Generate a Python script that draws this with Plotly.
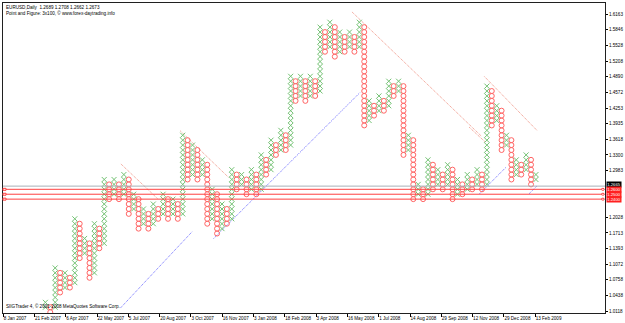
import plotly.graph_objects as go

# ---------------- data ----------------
col_type = list("XOXOXOXOXOXOXOXOXOXOXOXOXOXOXOXOXOXOXOXOXOXOXOXOXOXOXOXOXOXOXOXOXOXOXOXOXOXOXOXOXOXOXOXOXOXOXOXOXOXOX")
col_low = [102, 100, 102, 105, 106, 106, 107, 112, 113, 108,
           109, 114, 115, 124, 125, 124, 125, 121, 122, 118,
           119, 118, 119, 120, 121, 120, 121, 120, 121, 128,
           129, 128, 129, 119, 120, 117, 118, 119, 120, 126,
           127, 125, 126, 125, 126, 129, 130, 133, 134, 134,
           135, 144, 145, 144, 145, 145, 146, 154, 155, 153,
           154, 154, 155, 154, 155, 139, 140, 141, 142, 142,
           143, 145, 146, 133, 134, 124, 125, 124, 125, 126,
           127, 126, 127, 124, 125, 125, 126, 126, 127, 126,
           127, 139, 140, 134, 135, 128, 129, 129, 130, 127,
           128]
col_high = [103, 102, 110, 109, 109, 108, 120, 119, 116, 115,
            119, 118, 128, 127, 128, 127, 129, 128, 125, 124,
            122, 121, 123, 122, 125, 124, 124, 123, 137, 136,
            135, 134, 132, 131, 126, 125, 123, 122, 130, 129,
            129, 128, 130, 129, 133, 132, 136, 135, 138, 137,
            149, 148, 149, 148, 149, 148, 159, 158, 160, 159,
            158, 157, 158, 157, 160, 159, 144, 143, 145, 144,
            148, 147, 148, 147, 137, 136, 127, 126, 132, 131,
            130, 129, 131, 130, 128, 127, 129, 128, 130, 129,
            147, 146, 143, 142, 137, 136, 132, 131, 133, 132,
            129]

# trend lines: (col0, price0, col1, price1)
support_lines = [(15.3, 1.0184, 29.9, 1.1735),
                 (34.3, 1.1599, 64.1, 1.4566),
                 (88.5, 1.2509, 93.9, 1.3049),
                 (98.6, 1.2509, 100.3, 1.2677)]
resist_lines = [(15.4, 1.3116, 22.9, 1.2408),
                (27.5, 1.3789, 37.3, 1.2847),
                (62.5, 1.6210, 88.9, 1.3680),
                (89.5, 1.4895, 100.3, 1.3790),
                (86.4, 1.3864, 89.7, 1.3560)]

y_ticks = [1.6163, 1.5846, 1.5528, 1.5208, 1.4890, 1.4572, 1.4253, 1.3935,
           1.3618, 1.3300, 1.2983, 1.2028, 1.1713, 1.1393, 1.1072, 1.0758,
           1.0438, 1.0118]
date_labels = ["8 Jan 2007", "21 Feb 2007", "6 Apr 2007", "22 May 2007", "5 Jul 2007",
               "20 Aug 2007", "3 Oct 2007", "16 Nov 2007", "3 Jan 2008", "18 Feb 2008",
               "3 Apr 2008", "16 May 2008", "1 Jul 2008", "14 Aug 2008", "29 Sep 2008",
               "12 Nov 2008", "29 Dec 2008", "13 Feb 2009"]
current_price = 1.2665
level_lines = [1.2600, 1.2500, 1.2400]

# ---------------- build ----------------
xs_x, ys_x, xs_o, ys_o = [], [], [], []
for k, (t, lo, hi) in enumerate(zip(col_type, col_low, col_high)):
    for lvl in range(lo, hi + 1):
        if t == "X":
            xs_x.append(k); ys_x.append(lvl / 100)
        else:
            xs_o.append(k); ys_o.append(lvl / 100)

FONT = "Liberation Sans, Arial, sans-serif"
FS = 4.6
GREEN = "#74c274"
RED_O = "#ff6464"
fig = go.Figure()

for (k0, p0, k1, p1) in support_lines:
    fig.add_trace(go.Scatter(x=[k0, k1], y=[p0, p1], mode="lines",
                             line=dict(color="#6a6aff", width=1, dash="1px,1px"),
                             hoverinfo="skip", showlegend=False))
for (k0, p0, k1, p1) in resist_lines:
    fig.add_trace(go.Scatter(x=[k0, k1], y=[p0, p1], mode="lines",
                             line=dict(color="#f09080", width=1, dash="1px,1px"),
                             hoverinfo="skip", showlegend=False))

fig.add_trace(go.Scatter(x=xs_x, y=ys_x, mode="markers", showlegend=False,
                         marker=dict(symbol="x-thin-open", size=5, color=GREEN,
                                     line=dict(color=GREEN, width=1))))
fig.add_trace(go.Scatter(x=xs_o, y=ys_o, mode="markers", showlegend=False,
                         marker=dict(symbol="circle-open", size=5, color=RED_O,
                                     line=dict(color=RED_O, width=1))))
# dummy for date axis
fig.add_trace(go.Scatter(x=[0], y=[1.0], xaxis="x2", mode="markers",
                         marker=dict(opacity=0), showlegend=False, hoverinfo="skip"))

shapes = []
shapes.append(dict(type="line", xref="paper", yref="y", x0=0, x1=1,
                   y0=current_price, y1=current_price,
                   line=dict(color="#a8b0b8", width=1)))
for lv in level_lines:
    shapes.append(dict(type="line", xref="paper", yref="y", x0=0, x1=0.998,
                       y0=lv, y1=lv, line=dict(color="#ff4040", width=1)))
    shapes.append(dict(type="rect", xref="paper", yref="y", x0=0.0, x1=0.005,
                       y0=lv - 0.002, y1=lv + 0.002,
                       line=dict(color="#ff4040", width=1), fillcolor="white"))
    shapes.append(dict(type="circle", xref="paper", yref="y", x0=0.994, x1=0.999,
                       y0=lv - 0.002, y1=lv + 0.002,
                       line=dict(color="#ff4040", width=1), fillcolor="white"))

annotations = [
    dict(xref="paper", yref="paper", x=0.002, y=0.999, xanchor="left", yanchor="top",
         text="EURUSD,Daily  1.2689 1.2708 1.2662 1.2673<br>Point and Figure: 3x100, © www.forex-daytrading.info",
         showarrow=False, align="left", font=dict(family=FONT, size=FS, color="black")),
    dict(xref="paper", yref="paper", x=0.002, y=0.006, xanchor="left", yanchor="bottom",
         text="SIIGTrader 4, © 2001-2008 MetaQuotes Software Corp.",
         showarrow=False, align="left", font=dict(family=FONT, size=FS, color="black")),
    dict(xref="paper", yref="y", x=1.0, y=current_price, xanchor="left", yanchor="middle",
         text="%.4f" % current_price, showarrow=False, bgcolor="black", borderpad=0,
         height=4.6, width=14, xshift=1, yshift=1.2,
         font=dict(family=FONT, size=4.2, color="white")),
]
for lv in level_lines:
    annotations.append(dict(xref="paper", yref="y", x=1.0, y=lv, xanchor="left", yanchor="middle",
                            text="%.4f" % lv, showarrow=False, bgcolor="#ff2020", borderpad=0,
                            height=4.6, width=14, xshift=1,
                            font=dict(family=FONT, size=4.2, color="white")))

fig.update_layout(
    width=625, height=323,
    margin=dict(l=2, r=19, t=3, b=8),
    paper_bgcolor="white", plot_bgcolor="white",
    showlegend=False,
    shapes=shapes, annotations=annotations,
    xaxis=dict(range=[-8.635, 114.079], showgrid=False, zeroline=False,
               showticklabels=False, ticks="", showline=True, mirror=True,
               linecolor="#202020", linewidth=1),
    xaxis2=dict(overlaying="x", anchor="y", side="bottom", range=[-0.005, 19.231],
                tickmode="array", tickvals=list(range(len(date_labels))), ticktext=date_labels,
                ticklabelposition="outside right", ticks="outside", ticklen=3, tickangle=0,
                tickcolor="black", tickwidth=1, showgrid=False, zeroline=False, showline=False,
                tickfont=dict(family=FONT, size=FS, color="black")),
    yaxis=dict(range=[1.0083, 1.63915], side="right", showgrid=False, zeroline=False,
               tickmode="array", tickvals=y_ticks, ticktext=["%.4f" % v for v in y_ticks],
               ticks="outside", ticklen=2, tickcolor="black",
               showline=True, mirror=True, linecolor="#202020", linewidth=1,
               tickfont=dict(family=FONT, size=FS, color="black")),
)

fig.write_html("out.html")
